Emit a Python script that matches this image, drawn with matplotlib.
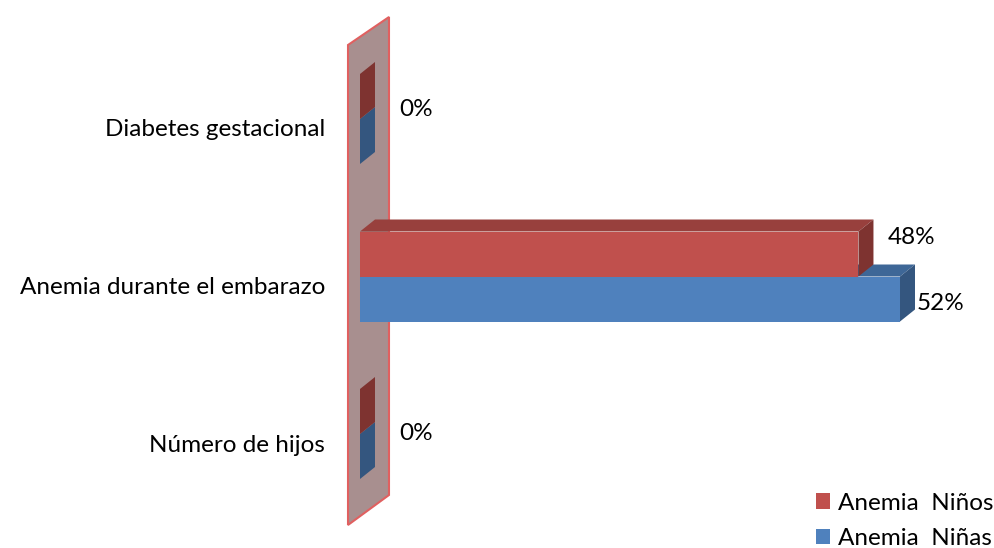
import matplotlib
matplotlib.use("Agg")
import matplotlib.pyplot as plt
from matplotlib.patches import Polygon, Rectangle, Patch

categories = ["Diabetes gestacional", "Anemia durante el embarazo", "Número de hijos"]
ninos = [0, 48, 0]
ninas = [0, 52, 0]
series_names = ["Anemia  Niños", "Anemia  Niñas"]

RED = "#C0504D"
RED_TOP = "#98403D"
RED_SIDE = "#7E3330"
BLUE = "#4F81BD"
BLUE_TOP = "#3E6797"
BLUE_SIDE = "#34567F"
FS = 17.5

plt.rcParams["font.family"] = ["Lato", "DejaVu Sans"]

W, H = 994, 548
fig = plt.figure(figsize=(W / 100, H / 100), dpi=100)

# axis: x in percent, y in category units (0 = top category)
PX_PER_PCT = 540 / 52
PX_PER_CAT = 157.5
X0, Y0 = 360, 119  # pixel position of (0%, first category front centre)
left = X0 / W
xmax = 60
width = xmax * PX_PER_PCT / W
ax = fig.add_axes([left, 0, width, 1])
ax.set_xlim(0, xmax)
ax.set_ylim((H - Y0) / PX_PER_CAT, -Y0 / PX_PER_CAT)
ax.axis("off")

DX = 15 / PX_PER_PCT
DY = -12 / PX_PER_CAT
BH = 45 / PX_PER_CAT


def px(x, y):
    return ((x - X0) / PX_PER_PCT, (y - Y0) / PX_PER_CAT)


# back wall
wall = Polygon([px(348, 525), px(348, 45), px(389, 17), px(389, 495)],
               closed=True, facecolor="#A88F8F", edgecolor="#E06060",
               linewidth=1.5, zorder=1, clip_on=False)
ax.add_patch(wall)


def bar3d(y_top, value, front, top, side):
    y_bot = y_top + BH
    if value > 0:
        ax.add_patch(Rectangle((0, y_top), value, BH, facecolor=front,
                               edgecolor="none", zorder=3))
        ax.add_patch(Polygon([(0, y_top), (value, y_top),
                              (value + DX, y_top + DY), (DX, y_top + DY)],
                             facecolor=top, edgecolor="none", zorder=3))
    ax.add_patch(Polygon([(value, y_top), (value + DX, y_top + DY),
                          (value + DX, y_bot + DY), (value, y_bot)],
                         facecolor=side, edgecolor="none", zorder=3))


for i in range(len(categories)):
    # blue (lower) first, then red so the red side sits over blue top
    bar3d(i, ninas[i], BLUE, BLUE_TOP, BLUE_SIDE)
    bar3d(i - BH, ninos[i], RED, RED_TOP, RED_SIDE)

    ax.annotate(categories[i], (0, i), xytext=(-35, -11),
                textcoords="offset pixels", ha="right", va="center",
                fontsize=FS, color="#000000", annotation_clip=False)

    if ninos[i] == 0 and ninas[i] == 0:
        ax.annotate("0%", (0, i), xytext=(39, 9 if i == 0 else 0),
                    textcoords="offset pixels", ha="left", va="center",
                    fontsize=FS)
    else:
        ax.annotate(f"{ninos[i]}%", (ninos[i] + DX, i - BH / 2),
                    xytext=(14, 17), textcoords="offset pixels",
                    ha="left", va="center", fontsize=FS)
        ax.annotate(f"{ninas[i]}%", (ninas[i] + DX, i + BH / 2),
                    xytext=(2, -4), textcoords="offset pixels",
                    ha="left", va="center", fontsize=FS)

handles = [Patch(facecolor=RED), Patch(facecolor=BLUE)]
fig.legend(handles, series_names, loc="upper left",
           bbox_to_anchor=(806 / W, 1 - 483 / H), frameon=False,
           fontsize=FS, handlelength=0.6, handleheight=0.6,
           handletextpad=0.3, labelspacing=0.6, borderaxespad=0)

fig.savefig("out.png", dpi=100)
